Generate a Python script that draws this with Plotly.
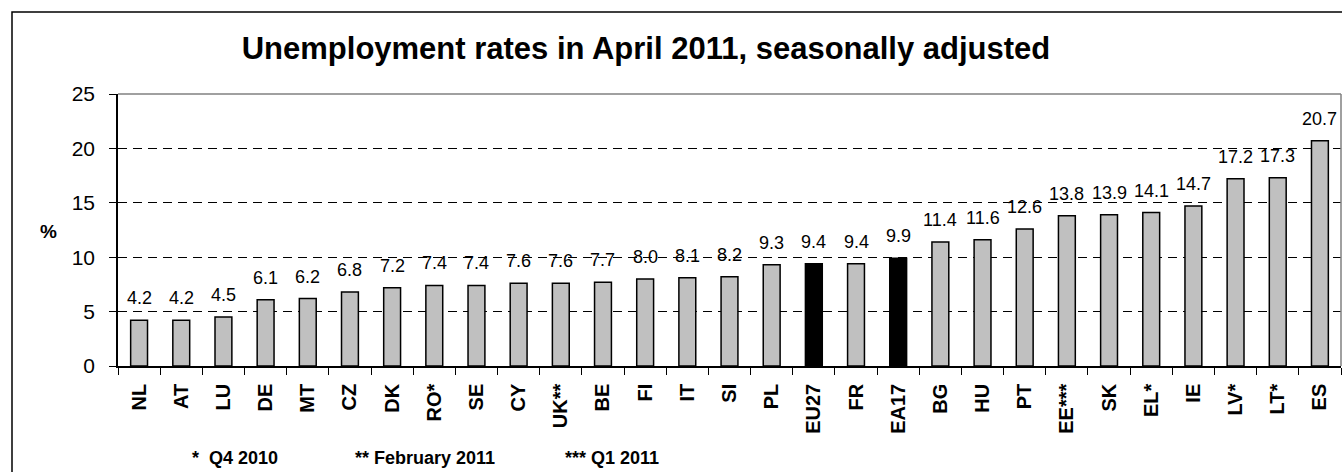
import plotly.graph_objects as go

categories = ["NL", "AT", "LU", "DE", "MT", "CZ", "DK", "RO*", "SE", "CY", "UK**", "BE",
              "FI", "IT", "SI", "PL", "EU27", "FR", "EA17", "BG", "HU", "PT", "EE***",
              "SK", "EL*", "IE", "LV*", "LT*", "ES"]
values = [4.2, 4.2, 4.5, 6.1, 6.2, 6.8, 7.2, 7.4, 7.4, 7.6, 7.6, 7.7,
          8.0, 8.1, 8.2, 9.3, 9.4, 9.4, 9.9, 11.4, 11.6, 12.6, 13.8,
          13.9, 14.1, 14.7, 17.2, 17.3, 20.7]
highlight = ["EU27", "EA17"]
footnotes = ["*  Q4 2010", "** February 2011", "*** Q1 2011"]
title_text = "Unemployment rates in April 2011, seasonally adjusted"

W, H = 1342, 472
L, R, T, B = 118, 1, 94, 106
PW, PH = W - L - R, H - T - B

FONT = "Arial, Liberation Sans, sans-serif"
colors = ["#000000" if c in highlight else "#C0C0C0" for c in categories]

fig = go.Figure()
fig.add_trace(go.Bar(
    x=categories, y=values,
    marker=dict(color=colors, line=dict(color="#000000", width=1.5)),
    hoverinfo="x+y",
))

for c, v in zip(categories, values):
    fig.add_annotation(x=c, y=v, text=f"{v:.1f}", showarrow=False,
                       yanchor="bottom", yshift=10,
                       font=dict(family=FONT, size=18, color="#000000"))

def px_x(px):
    return (px - L) / PW

def px_y(py):
    return (H - B - py) / PH

# Footnotes
for txt, xp in zip(footnotes, [190, 353, 563]):
    fig.add_annotation(xref="paper", yref="paper", x=px_x(xp), y=px_y(458),
                       xanchor="left", yanchor="middle", showarrow=False,
                       text=f"<b>{txt}</b>",
                       font=dict(family=FONT, size=18, color="#000000"))

# Y-axis label
fig.add_annotation(xref="paper", yref="paper", x=px_x(48), y=px_y(231),
                   xanchor="center", yanchor="middle", showarrow=False,
                   text="<b>%</b>", font=dict(family=FONT, size=19, color="#000000"))

shapes = [
    dict(type="line", xref="paper", yref="paper", x0=0, x1=1, y0=1, y1=1,
         line=dict(color="#808080", width=1.5), layer="above"),
    dict(type="line", xref="paper", yref="paper", x0=1, x1=1, y0=0, y1=1,
         line=dict(color="#808080", width=1.5), layer="above"),
    dict(type="rect", xref="paper", yref="paper", x0=px_x(12), x1=px_x(1400),
         y0=px_y(520), y1=px_y(12), line=dict(color="#000000", width=1.5),
         layer="below"),
]

fig.update_layout(
    width=W, height=H, autosize=False,
    margin=dict(l=L, r=R, t=T, b=B),
    paper_bgcolor="#FFFFFF", plot_bgcolor="#FFFFFF",
    bargap=0.6, showlegend=False,
    font=dict(family=FONT, color="#000000"),
    title=dict(text=f"<b>{title_text}</b>", x=646 / W, xanchor="center",
               y=1 - 48 / H, yanchor="middle", yref="container",
               font=dict(family=FONT, size=31, color="#000000")),
    shapes=shapes,
)
fig.update_xaxes(
    type="category", tickangle=-90, showline=True, linecolor="#000000", linewidth=1.5,
    ticks="outside", tickson="boundaries", ticklen=7, tickcolor="#000000", tickwidth=1,
    showgrid=False, ticklabelstandoff=8,
    tickfont=dict(family=FONT, size=20, color="#000000", weight="bold"),
)
fig.update_yaxes(
    range=[0, 25], dtick=5, tick0=0, showline=True, linecolor="#000000", linewidth=1.5,
    ticks="outside", ticklen=7, tickcolor="#000000", tickwidth=1,
    showgrid=True, gridcolor="#000000", gridwidth=1, griddash="9px,6px",
    zeroline=False, ticklabelstandoff=10,
    tickfont=dict(family=FONT, size=21, color="#000000"),
)

page_css = ("document.documentElement.style.margin='0';"
            "document.body.style.margin='0';"
            "document.documentElement.style.overflow='hidden';"
            "document.body.style.overflow='hidden';")

fig.write_html("out.html", post_script=page_css, config={"displayModeBar": False})
